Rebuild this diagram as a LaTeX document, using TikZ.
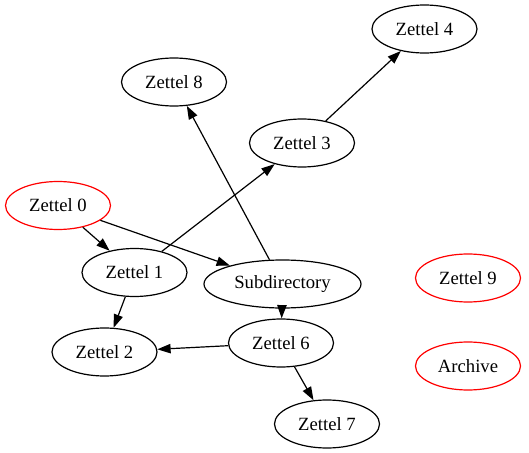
\documentclass[tikz,border=0pt]{standalone}
\usepackage{fontspec}
\setmainfont{Liberation Serif}
\usetikzlibrary{shapes.geometric,arrows.meta}

\begin{document}
\begin{tikzpicture}[x=0.75pt, y=-0.75pt,
zettel/.style={draw, ellipse, line width=0.9pt, inner sep=0pt, minimum width=78.75pt, minimum height=36pt, font=\fontsize{14}{16}\selectfont},
orphan/.style={zettel, draw=red},
wide/.style={minimum width=117.75pt},
link/.style={line width=0.9pt, -{Triangle[length=10pt, width=7pt]}}
]
\useasboundingbox (0,0) rectangle (529,453);
\node[zettel] (z4) at (424.5,29) {Zettel 4};
\node[zettel] (z8) at (174,82) {Zettel 8};
\node[zettel] (z3) at (302,143) {Zettel 3};
\node[orphan] (z0) at (58,205.5) {Zettel 0};
\node[zettel] (z1) at (134.5,272.5) {Zettel 1};
\node[zettel, wide] (sub) at (282.5,284) {Subdirectory};
\node[orphan] (z9) at (468,278) {Zettel 9};
\node[zettel] (z2) at (104.5,352) {Zettel 2};
\node[zettel] (z6) at (281,343) {Zettel 6};
\node[orphan] (arch) at (468,366) {Archive};
\node[zettel] (z7) at (327,424) {Zettel 7};
% links between notes
\draw[link] (z0) -- (z1);
\draw[link] (z0) -- (sub);
\draw[link] (z1) -- (z3);
\draw[link] (z1) -- (z2);
\draw[link] (z3) -- (z4);
\draw[link] (sub) -- (z8);
\draw[link] (sub) -- (z6);
\draw[link] (z6) -- (z2);
\draw[link] (z6) -- (z7);
\end{tikzpicture}
\end{document}
